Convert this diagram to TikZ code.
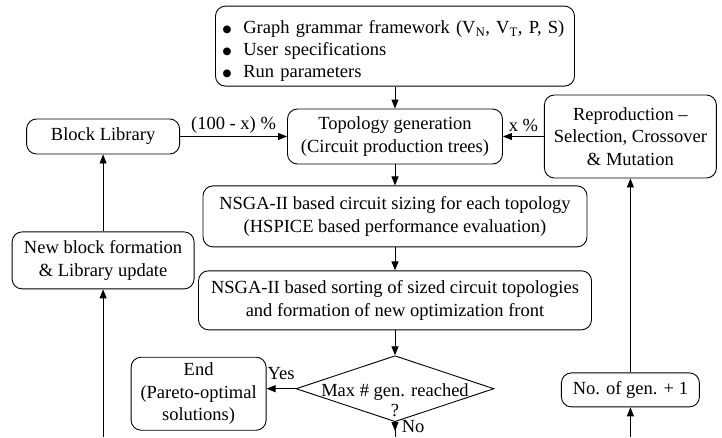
\documentclass[tikz,border=0pt]{standalone}
\usepackage{fontspec}
\setmainfont{Liberation Serif}
\newfontfamily\symfont{DejaVu Sans}
\usepackage{tikz}
\usetikzlibrary{arrows.meta,positioning,shapes.geometric}

\newcommand{\bigbul}{\raisebox{1.5pt}{\symfont\scalebox{0.55}{●}}\hspace{12pt}}

\begin{document}
\begin{tikzpicture}[
  x=1pt,y=-1pt,
  font=\fontsize{18.5}{22.5}\selectfont,
  line width=0.9pt,
  box/.style={draw,rounded corners=10pt,align=center,inner sep=2pt},
  decision/.style={draw,diamond,inner sep=0pt,minimum width=198pt,minimum height=66pt},
  >={Triangle[length=9pt,width=7pt]}]
\useasboundingbox (0,0) rectangle (722,437);
\node[box,minimum width=215pt,minimum height=55pt] (topo) at (395,136.5) {Topology generation\\(Circuit production trees)};
\node[box,above=22pt of topo,minimum width=359pt,minimum height=80pt,text width=345pt,align=left,inner xsep=7pt]
  (spec) {\rule{0pt}{23pt}\bigbul Graph grammar framework (V\textsubscript{N}, V\textsubscript{T}, P, S)\\[-0.5pt]
  \bigbul User specifications\\[-0.5pt]
  \bigbul Run parameters};
\node[box,below=21pt of topo,minimum width=384pt,minimum height=61pt] (sizing) {NSGA-II based circuit sizing for each topology\\(HSPICE based performance evaluation)};
\node[box,below=23pt of sizing,minimum width=393pt,minimum height=59pt] (sorting) {NSGA-II based sorting of sized circuit topologies\\and formation of new optimization front};
\node[decision,below=25pt of sorting,
  label={[align=center,yshift=-12pt,font=\fontsize{18.5}{20}\selectfont]center:Max \# gen. reached\\?}] (maxgen) {};
\node[box,left=29pt of maxgen,yshift=-5pt,minimum width=135pt,minimum height=73pt] (endbox) {End\\(Pareto-optimal\\solutions)};
\node[box,left=107pt of topo,minimum width=153pt,minimum height=35pt] (blocklib) {Block Library};
\node[box,below=77pt of blocklib,minimum width=182pt,minimum height=57pt] (newblock) {New block formation\\\& Library update};
\node[box,right=41pt of topo,minimum width=172pt,minimum height=83pt] (repro) {Reproduction --\\Selection, Crossover\\\& Mutation};
\node[box,below=194pt of repro,minimum width=138pt,minimum height=34pt] (nextgen) {No. of gen. + 1};
\coordinate (nobot) at (maxgen.south |- 0,437);
\coordinate (notip) at (maxgen.south |- 0,431);
\coordinate (lbot) at (newblock.south |- 0,437);
\coordinate (rbot) at (nextgen.south |- 0,437);
% main flow
\draw[->] (spec)--(topo); \draw[->] (topo)--(sizing); \draw[->] (sizing)--(sorting);
\draw[->] (sorting)--(maxgen);
\draw[->] (maxgen.west)--(maxgen.west -| endbox.east) node[midway,above,yshift=5pt]{Yes};
\draw (maxgen.south)--(nobot);
\draw[->] (maxgen.south)--(notip) node[pos=0.45,right,xshift=3pt]{No};
% side loops
\draw[->] (blocklib)--(topo) node[midway,above,inner sep=3pt]{(100 - x) \%};
\draw[->] (repro)--(topo) node[midway,above,inner sep=4pt]{x \%};
\draw[->] (newblock)--(blocklib);
\draw[->] (lbot)--(newblock);
\draw[->] (nextgen)--(repro);
\draw[->] (rbot)--(nextgen);
\end{tikzpicture}
\end{document}
